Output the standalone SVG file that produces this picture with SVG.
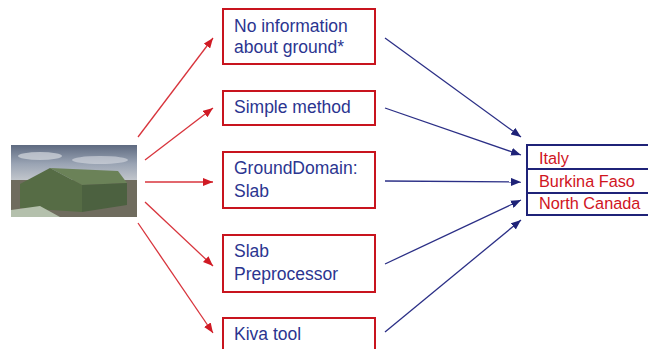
<svg xmlns="http://www.w3.org/2000/svg" width="648" height="349" viewBox="0 0 648 349">
<style>
.box{fill:#fff;stroke:#c8141e;stroke-width:2}
.t{font-family:"Liberation Sans",Arial,sans-serif;font-size:17.5px;fill:#2b3590}
.r{font-family:"Liberation Sans",Arial,sans-serif;font-size:16.3px;fill:#d0141e}
.ra{stroke:#d8343c;stroke-width:1.3;fill:none;marker-end:url(#mr)}
.ba{stroke:#2b2f86;stroke-width:1.3;fill:none;marker-end:url(#mb)}
</style>
<defs>
<marker id="mr" viewBox="0 0 10 8" refX="10" refY="4" markerWidth="10" markerHeight="8" markerUnits="userSpaceOnUse" orient="auto"><path d="M0,0 L10,4 L0,8 Z" fill="#d01a24"/></marker>
<marker id="mb" viewBox="0 0 10 8" refX="10" refY="4" markerWidth="10" markerHeight="8" markerUnits="userSpaceOnUse" orient="auto"><path d="M0,0 L10,4 L0,8 Z" fill="#1f2378"/></marker>
<linearGradient id="sky" x1="0" y1="0" x2="0" y2="1"><stop offset="0" stop-color="#5e6a80"/><stop offset="0.5" stop-color="#9aa4b4"/><stop offset="1" stop-color="#c9ccd0"/></linearGradient>
</defs>
<rect width="648" height="349" fill="#fff"/>
<g id="photo">
<rect x="11" y="145" width="126" height="38" fill="url(#sky)"/>
<ellipse cx="40" cy="156" rx="22" ry="4" fill="#d4d8de" opacity="0.7"/>
<ellipse cx="100" cy="160" rx="28" ry="4" fill="#d8dce2" opacity="0.6"/>
<rect x="11" y="180" width="126" height="37" fill="#6f6c5e"/>
<polygon points="50,168 118,171 127,183 82,185" fill="#6b8258"/>
<polygon points="20,184 50,168 82,185 82,212 20,208" fill="#566c45"/>
<polygon points="82,185 127,183 127,205 82,212" fill="#4c6140"/>
<polygon points="11,210 40,206 60,217 11,217" fill="#b4c0ac"/>
</g>
<g id="n1"><rect class="box" x="223" y="9" width="152" height="55"/><text class="t" x="234" y="32">No information</text><text class="t" x="234" y="53">about ground*</text></g>
<g id="n2"><rect class="box" x="223" y="91" width="152" height="34"/><text class="t" x="234" y="113">Simple method</text></g>
<g id="n3"><rect class="box" x="223" y="152" width="152" height="56"/><text class="t" x="234" y="174">GroundDomain:</text><text class="t" x="234" y="197">Slab</text></g>
<g id="n4"><rect class="box" x="223" y="235" width="152" height="57"/><text class="t" x="234" y="257">Slab</text><text class="t" x="234" y="280">Preprocessor</text></g>
<g id="n5"><rect class="box" x="223" y="318" width="152" height="40"/><text class="t" x="234" y="340">Kiva tool</text></g>
<g id="climates">
<rect x="527" y="145" width="130" height="70" fill="#fff" stroke="#1f2378" stroke-width="2"/>
<line x1="527" y1="169" x2="650" y2="169" stroke="#1f2378" stroke-width="2"/>
<line x1="527" y1="193" x2="650" y2="193" stroke="#1f2378" stroke-width="2"/>
<text class="r" x="539" y="164">Italy</text>
<text class="r" x="539" y="187">Burkina Faso</text>
<text class="r" x="539" y="209">North Canada</text>
</g>
<g id="connectors">
<line class="ra" x1="138" y1="137" x2="213" y2="38"/>
<line class="ra" x1="145" y1="160" x2="213" y2="108"/>
<line class="ra" x1="145" y1="182" x2="213" y2="182"/>
<line class="ra" x1="145" y1="202" x2="213" y2="266"/>
<line class="ra" x1="138" y1="223" x2="213" y2="333"/>
<line class="ba" x1="385" y1="38" x2="521" y2="137"/>
<line class="ba" x1="385" y1="108" x2="521" y2="155"/>
<line class="ba" x1="385" y1="181" x2="521" y2="182"/>
<line class="ba" x1="385" y1="264" x2="521" y2="200"/>
<line class="ba" x1="385" y1="332" x2="521" y2="220"/>
</g>
</svg>
